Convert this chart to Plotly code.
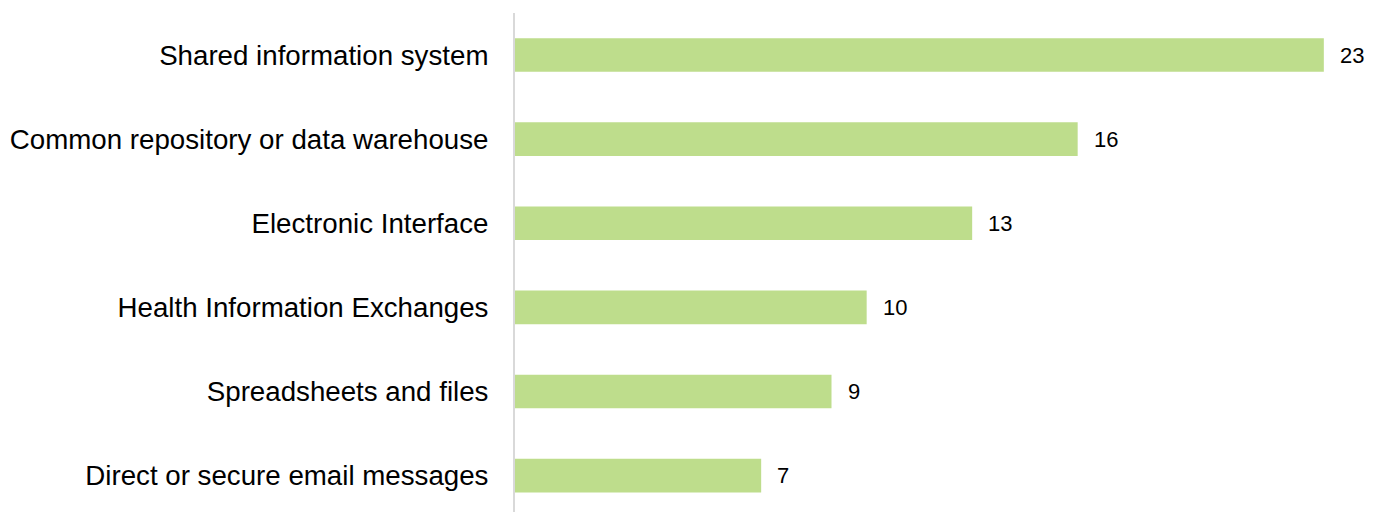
import plotly.graph_objects as go

# Data-sharing methods and their counts
categories = [
    "Shared information system",
    "Common repository or data warehouse",
    "Electronic Interface",
    "Health Information Exchanges",
    "Spreadsheets and files",
    "Direct or secure email messages",
]
counts = [23, 16, 13, 10, 9, 7]

BAR_COLOR = "#BEDD8C"

fig = go.Figure(
    go.Bar(
        x=counts,
        y=categories,
        orientation="h",
        marker=dict(color=BAR_COLOR, line=dict(width=0)),
        width=0.4,
        hoverinfo="x+y",
    )
)

# Value labels placed just past the end of each bar
for cat, val in zip(categories, counts):
    fig.add_annotation(
        x=val, y=cat, text=str(val),
        xanchor="left", yanchor="middle", xshift=14, showarrow=False,
        font=dict(family="Liberation Sans, Arial, sans-serif", size=22, color="#000000"),
    )

fig.update_layout(
    width=1381, height=512,
    margin=dict(l=515, r=22, t=13, b=0),
    plot_bgcolor="white", paper_bgcolor="white",
    showlegend=False,
    bargap=0.6,
    xaxis=dict(
        range=[0, 24], showgrid=False, zeroline=False,
        showticklabels=False, ticks="",
        showline=False,
    ),
    yaxis=dict(
        type="category",
        categoryorder="array", categoryarray=categories,
        range=[5.433, -0.5],
        showgrid=False, zeroline=False,
        showline=True, linecolor="#D9D9D9", linewidth=2,
        ticks="", ticklabelstandoff=19,
        tickfont=dict(family="Liberation Sans, Arial, sans-serif", size=27.7, color="#000000"),
    ),
)

fig.write_html("out.html")
